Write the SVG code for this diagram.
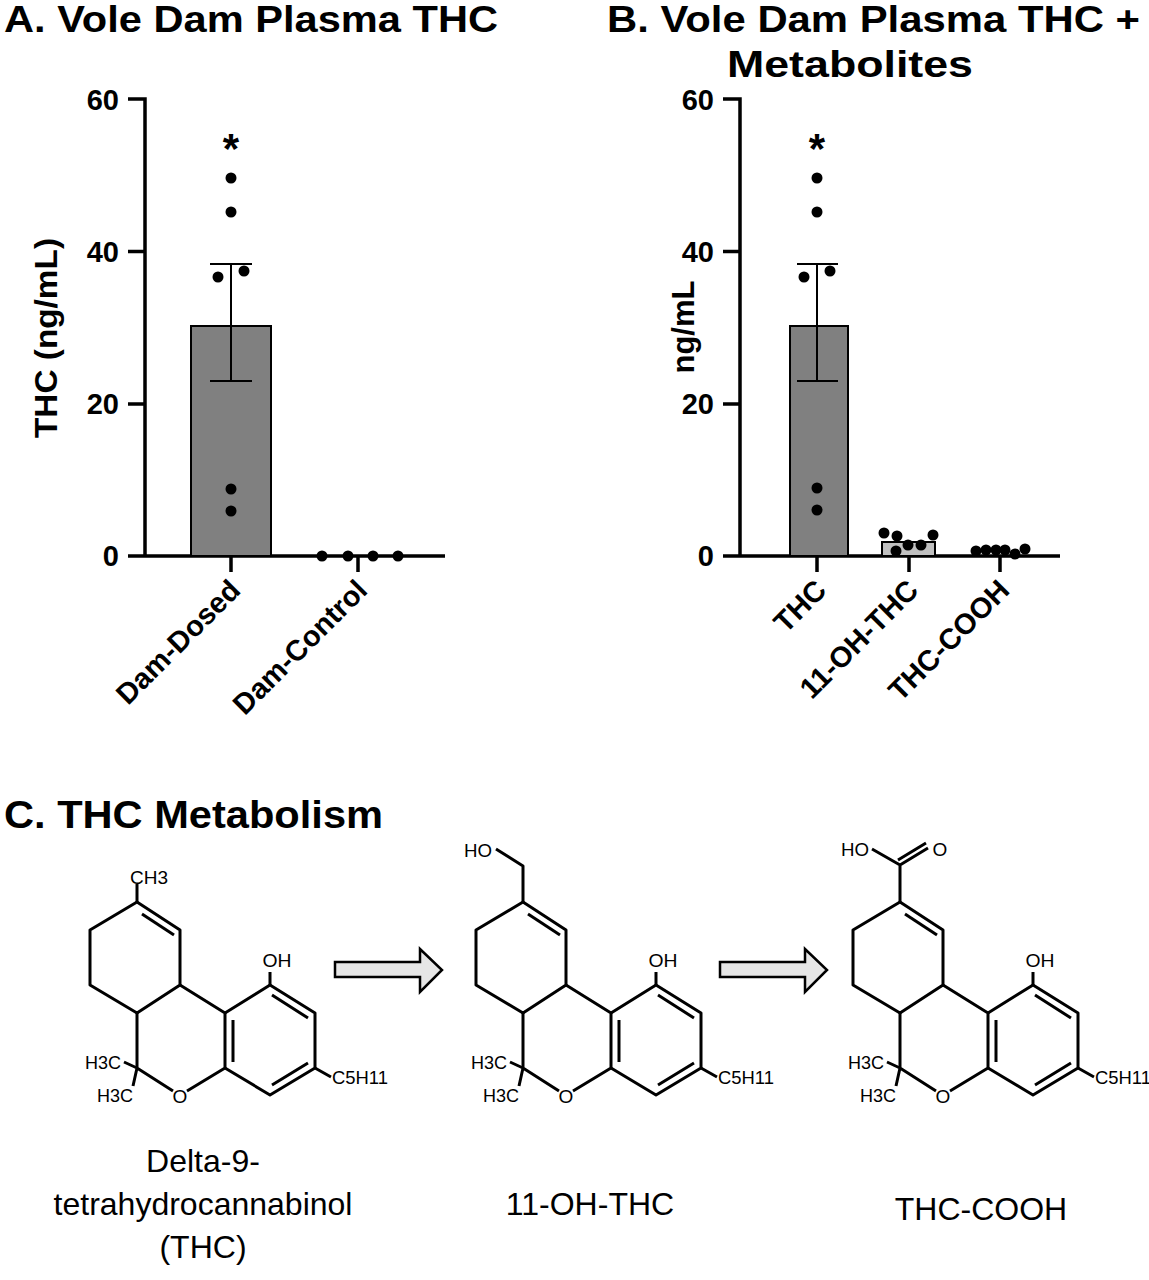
<svg xmlns="http://www.w3.org/2000/svg" width="1149" height="1280" viewBox="0 0 1149 1280">
<style>
.t{font-family:"Liberation Sans",Arial,sans-serif;font-weight:bold;fill:#000}
.tk{font-family:"Liberation Sans",Arial,sans-serif;font-weight:bold;font-size:29px}
.ax{stroke:#000;stroke-width:3.5;fill:none}
.bar{fill:#808080;stroke:#000;stroke-width:2}
.bar2{fill:#c0c0c0;stroke:#000;stroke-width:2}
.eb{stroke:#000;stroke-width:2;fill:none}
.b{stroke:#000;stroke-width:3;fill:none;stroke-linejoin:round}
.m{font-family:"Liberation Sans",Arial,sans-serif;font-size:19px;fill:#000}
.lab{font-family:"Liberation Sans",Arial,sans-serif;font-size:32px;fill:#000;text-anchor:middle}
.arr{fill:#e6e6e6;stroke:#000;stroke-width:2.5}
</style>
<defs>
<g id="core">
<path class="b" d="M137,902 L180,930 L180,985 L137,1013 L90,985 L90,930 Z"/>
<path class="b" d="M142,914 L174,935"/>
<path class="b" d="M137,1013 L137,1068 L173,1091 M187,1091 L225,1068 L225,1013 L180,985"/>
<path class="b" d="M225,1013 L270,985 L315,1013 L315,1068 L270,1095 L225,1068"/>
<path class="b" d="M233,1020 L233,1062 M272,995 L308,1018 M308,1063 L272,1085"/>
<path class="b" d="M270,985 L270,972 M315,1068 L331,1077 M137,1068 L124,1062 M137,1068 L133,1086"/>
<text class="m" x="277" y="967" text-anchor="middle" textLength="29" lengthAdjust="spacingAndGlyphs">OH</text>
<text class="m" x="332" y="1084" textLength="56" lengthAdjust="spacingAndGlyphs">C5H11</text>
<text class="m" x="121" y="1069" text-anchor="end" textLength="36" lengthAdjust="spacingAndGlyphs">H3C</text>
<text class="m" x="133" y="1102" text-anchor="end" textLength="36" lengthAdjust="spacingAndGlyphs">H3C</text>
<text class="m" x="180" y="1103" text-anchor="middle">O</text>
</g>
</defs>
<text class="t" x="4" y="32" font-size="36" textLength="494" lengthAdjust="spacingAndGlyphs">A. Vole Dam Plasma THC</text>
<text class="t" x="607" y="32" font-size="36" textLength="533" lengthAdjust="spacingAndGlyphs">B. Vole Dam Plasma THC +</text>
<text class="t" x="850" y="77" font-size="36" text-anchor="middle" textLength="246" lengthAdjust="spacingAndGlyphs">Metabolites</text>
<text class="t" x="4" y="828" font-size="38" textLength="379" lengthAdjust="spacingAndGlyphs">C. THC Metabolism</text>

<g id="chartA">
<path class="ax" d="M128,99 H145 V556 M128,251.5 H145 M128,404 H145 M128,556 H445 M231,556 V572 M358,556 V572"/>
<text class="tk" x="119" y="110" text-anchor="end">60</text>
<text class="tk" x="119" y="262" text-anchor="end">40</text>
<text class="tk" x="119" y="414" text-anchor="end">20</text>
<text class="tk" x="119" y="566" text-anchor="end">0</text>
<text class="t" font-size="31" transform="translate(57,338) rotate(-90)" text-anchor="middle" textLength="200" lengthAdjust="spacingAndGlyphs">THC (ng/mL)</text>
<rect class="bar" x="191" y="326" width="80" height="230"/>
<path class="eb" d="M231,381 V264 M210,264 H252 M210,381 H252"/>
<text class="t" x="231" y="163" font-size="42" text-anchor="middle" font-weight="normal">*</text>
<g fill="#000"><circle cx="231" cy="178" r="5.5"/><circle cx="231" cy="212" r="5.5"/><circle cx="218" cy="277" r="5.5"/><circle cx="244" cy="271" r="5.5"/><circle cx="231" cy="489" r="5.5"/><circle cx="231" cy="511" r="5.5"/>
<circle cx="322" cy="556" r="5.5"/><circle cx="348" cy="556" r="5.5"/><circle cx="373" cy="556" r="5.5"/><circle cx="398" cy="556" r="5.5"/></g>
<text class="tk" transform="translate(242,592) rotate(-45)" text-anchor="end">Dam-Dosed</text>
<text class="tk" transform="translate(369,592) rotate(-45)" text-anchor="end">Dam-Control</text>
</g>

<g id="chartB">
<path class="ax" d="M723,99 H740 V556 M723,251.5 H740 M723,404 H740 M723,556 H1060 M817,556 V572 M909,556 V572 M1000,556 V572"/>
<text class="tk" x="714" y="110" text-anchor="end">60</text>
<text class="tk" x="714" y="262" text-anchor="end">40</text>
<text class="tk" x="714" y="414" text-anchor="end">20</text>
<text class="tk" x="714" y="566" text-anchor="end">0</text>
<text class="t" font-size="31" transform="translate(694,327) rotate(-90)" text-anchor="middle">ng/mL</text>
<rect class="bar" x="790" y="326" width="58" height="230"/>
<rect class="bar2" x="882" y="542" width="53" height="14"/>
<path class="eb" d="M817,381 V264 M797,264 H838 M797,381 H838"/>
<text class="t" x="817" y="163" font-size="42" text-anchor="middle" font-weight="normal">*</text>
<g fill="#000"><circle cx="817" cy="178" r="5.5"/><circle cx="817" cy="212" r="5.5"/><circle cx="804" cy="277" r="5.5"/><circle cx="830" cy="271" r="5.5"/><circle cx="817" cy="488" r="5.5"/><circle cx="817" cy="510" r="5.5"/>
<circle cx="884" cy="533" r="5.5"/><circle cx="897" cy="536" r="5.5"/><circle cx="908" cy="545" r="5.5"/><circle cx="921" cy="545" r="5.5"/><circle cx="933" cy="535" r="5.5"/><circle cx="896" cy="551" r="5.5"/>
<circle cx="976" cy="551" r="5.5"/><circle cx="986" cy="550" r="5.5"/><circle cx="996" cy="550" r="5.5"/><circle cx="1005" cy="550" r="5.5"/><circle cx="1015" cy="554" r="5.5"/><circle cx="1025" cy="549" r="5.5"/></g>
<text class="tk" transform="translate(828,592) rotate(-45)" text-anchor="end">THC</text>
<text class="tk" transform="translate(920,592) rotate(-45)" text-anchor="end">11-OH-THC</text>
<text class="tk" transform="translate(1011,592) rotate(-45)" text-anchor="end">THC-COOH</text>
</g>

<g id="mol1">
<use href="#core"/>
<path class="b" d="M137,902 L137,884"/>
<text class="m" x="149" y="884" text-anchor="middle" textLength="38" lengthAdjust="spacingAndGlyphs">CH3</text>
</g>
<g id="mol2">
<use href="#core" transform="translate(386,0)"/>
<path class="b" d="M523,902 L523,866 L496,849"/>
<text class="m" x="478" y="857" text-anchor="middle" textLength="28" lengthAdjust="spacingAndGlyphs">HO</text>
</g>
<g id="mol3">
<use href="#core" transform="translate(763,0)"/>
<path class="b" d="M900,902 L900,865 L872,849 M900,865 L928,848 M898,860 L926,843"/>
<text class="m" x="855" y="856" text-anchor="middle" textLength="28" lengthAdjust="spacingAndGlyphs">HO</text>
<text class="m" x="940" y="856" text-anchor="middle">O</text>
</g>
<g id="arrows">
<path class="arr" d="M335,962 H420 V949 L442,970 L420,992 V977 H335 Z"/>
<path class="arr" d="M720,962 H805 V949 L827,970 L805,992 V977 H720 Z"/>
</g>
<text class="lab" x="203" y="1172">Delta-9-</text>
<text class="lab" x="203" y="1215">tetrahydrocannabinol</text>
<text class="lab" x="203" y="1258">(THC)</text>
<text class="lab" x="590" y="1215">11-OH-THC</text>
<text class="lab" x="981" y="1220">THC-COOH</text>
</svg>
